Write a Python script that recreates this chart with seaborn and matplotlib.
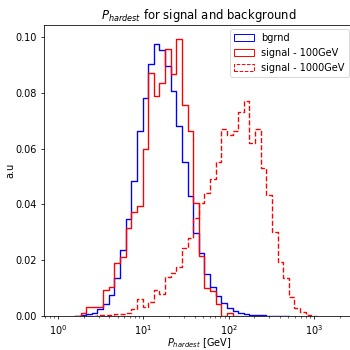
import numpy as np
import pandas as pd
import matplotlib
matplotlib.use("Agg")
import matplotlib.pyplot as plt
from matplotlib.patches import Patch
import seaborn as sns

# log-spaced bins, 10^0 .. 10^3.3, 50 bins
edges = np.logspace(0, 3.3, 51)
centers = np.sqrt(edges[:-1] * edges[1:])

# normalised bin contents (sum = 1)
bgrnd = [0, 0, 0, 0, 0.0002, 0.0006, 0.0012, 0.0024, 0.0044, 0.0075,
         0.0135, 0.0238, 0.0347, 0.0484, 0.0663, 0.0782, 0.0902, 0.0975, 0.0952, 0.0898,
         0.0805, 0.068, 0.0552, 0.043, 0.0297, 0.0226, 0.0152, 0.0104, 0.007, 0.0048,
         0.0029, 0.0019, 0.0012, 0.0007, 0.0004, 0.0003, 0.0002, 0.0001, 0.0001, 0.00005,
         0, 0, 0, 0, 0, 0, 0, 0, 0, 0]
sig100 = [0, 0, 0, 0, 0.001, 0.0034, 0.0034, 0.0034, 0.0093, 0.0103,
          0.019, 0.0213, 0.0314, 0.0372, 0.0394, 0.0598, 0.087, 0.079, 0.0835, 0.0957,
          0.0868, 0.0993, 0.0757, 0.0665, 0.0406, 0.0214, 0.01, 0.0091, 0.0042, 0,
          0.001, 0, 0, 0, 0, 0, 0, 0, 0, 0,
          0, 0, 0, 0, 0, 0, 0, 0, 0, 0]
sig1000 = [0, 0, 0, 0, 0, 0, 0.0001, 0.0002, 0.0003, 0.0004,
           0.0006, 0.0008, 0.0012, 0.0024, 0.006, 0.0032, 0.005, 0.0092, 0.008, 0.0139,
           0.0154, 0.0177, 0.0243, 0.0278, 0.035, 0.0406, 0.044, 0.049, 0.0553, 0.0669,
           0.0649, 0.0664, 0.0732, 0.0772, 0.0619, 0.0669, 0.0532, 0.0435, 0.0302, 0.0193,
           0.0135, 0.0069, 0.0027, 0.0013, 0.0004, 0, 0, 0, 0, 0]

labels = ["bgrnd", "signal - 100GeV", "signal - 1000GeV"]
colors = ["b", "r", "r"]
styles = ["-", "-", "--"]

fig = plt.figure(figsize=(5, 5), dpi=70)
ax = fig.add_axes([44 / 350, 34 / 350, 309.6 / 350, 291.5 / 350])


def nonzero_range(h):
    idx = np.nonzero(h)[0]
    return max(idx[0] - 1, 0), min(idx[-1] + 2, len(h))


for h, c, ls in zip([bgrnd, sig100, sig1000], colors, styles):
    h = np.asarray(h, dtype=float)
    lo, hi = nonzero_range(h)
    df = pd.DataFrame({"p": centers[lo:hi], "w": h[lo:hi]})
    sns.histplot(data=df, x="p", weights="w", bins=list(edges[lo:hi + 1]),
                 element="step", fill=False, color=c,
                 linestyle=ls, linewidth=1.4, ax=ax)

ax.set_xscale("log")
ax.set_xlim(10 ** -0.165, 10 ** 3.465)
ax.set_ylim(0, 0.1045)
ax.set_xlabel(r"$P_{hardest}$ [GeV]", labelpad=0)
ax.set_ylabel("a.u", labelpad=0)
ax.set_title(r"$P_{hardest}$ for signal and background")

handles = [Patch(facecolor="none", edgecolor=c, linestyle=ls, lw=1.0)
           for c, ls in zip(colors, styles)]
ax.legend(handles, labels, loc="upper right")

fig.savefig("out.png", dpi=70)
